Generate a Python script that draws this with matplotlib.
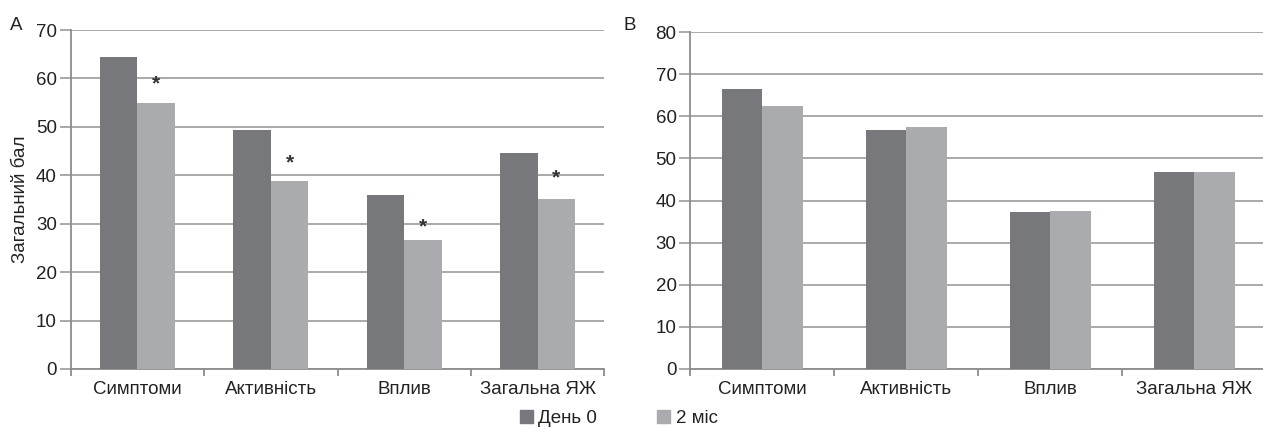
import numpy as np
import matplotlib
matplotlib.use("Agg")
import matplotlib.pyplot as plt
from matplotlib.patches import Patch

plt.rcParams['font.family'] = ['Liberation Sans Narrow', 'Liberation Sans', 'DejaVu Sans']

categories = ["Симптоми", "Активність", "Вплив", "Загальна ЯЖ"]

# панель A
a_day0 = [64.5, 49.3, 35.9, 44.5]
a_2mis = [55.0, 38.9, 26.6, 35.0]
a_stars = [58.9, 42.6, 29.4, 39.5]   # позначки достовірної різниці

# панель B
b_day0 = [66.5, 56.8, 37.2, 46.7]
b_2mis = [62.5, 57.4, 37.5, 46.7]

series_names = ["День 0", "2 міс"]

DARK = "#77787c"
LIGHT = "#aaabae"
GRID = "#a3a3a3"
AXIS = "#8c8c8c"
TXT = "#222222"
FS = 13.5


def draw_panel(ax, day0, mis2, ymax):
    x = np.arange(len(categories))
    w = 0.28
    ax.bar(x - w / 2, day0, w, color=DARK, zorder=3)
    ax.bar(x + w / 2, mis2, w, color=LIGHT, zorder=3)
    ax.set_xlim(-0.5, len(categories) - 0.5)
    ax.set_ylim(0, ymax)
    ax.set_yticks(np.arange(0, ymax + 1, 10))
    ax.yaxis.grid(True, color=GRID, lw=1.3, zorder=0)
    ax.set_axisbelow(True)
    for s in ("top", "right"):
        ax.spines[s].set_visible(False)
    for s in ("left", "bottom"):
        ax.spines[s].set_color(AXIS)
        ax.spines[s].set_linewidth(1.3)
    ax.set_xticks(x)
    ax.set_xticklabels(categories)
    ax.set_xticks(np.arange(-0.5, len(categories)), minor=True)
    ax.tick_params(axis="x", which="major", length=0, pad=9, labelsize=FS, labelcolor=TXT)
    ax.tick_params(axis="x", which="minor", length=5, width=1.3, color=AXIS)
    ax.tick_params(axis="y", length=8, width=1.3, color=GRID, pad=2, labelsize=FS, labelcolor=TXT)
    return x, w


fig = plt.figure(figsize=(12.63, 4.29), dpi=100)
axA = fig.add_axes([0.056, 0.140, 0.4225, 0.790])
axB = fig.add_axes([0.5467, 0.140, 0.456, 0.785])

x, w = draw_panel(axA, a_day0, a_2mis, 70)
for xi, ys in zip(x, a_stars):
    axA.text(xi + w / 2, ys, "*", ha="center", va="center", fontsize=15,
             fontweight="bold", color="#333333", zorder=4)
axA.set_ylabel("Загальний бал", fontsize=FS, color=TXT, labelpad=5)

draw_panel(axB, b_day0, b_2mis, 80)

fig.text(0.008, 0.94, "A", fontsize=FS, color=TXT, ha="left", va="center")
fig.text(0.4935, 0.94, "B", fontsize=FS, color=TXT, ha="left", va="center")

handles = [Patch(color=DARK), Patch(color=LIGHT)]
fig.legend(handles, series_names, loc="center", bbox_to_anchor=(0.49, 0.025),
           ncol=2, frameon=False, fontsize=FS, handlelength=0.7, handleheight=0.7,
           handletextpad=0.3, columnspacing=3.2, labelcolor=TXT)

fig.savefig("out.png", dpi=100)
